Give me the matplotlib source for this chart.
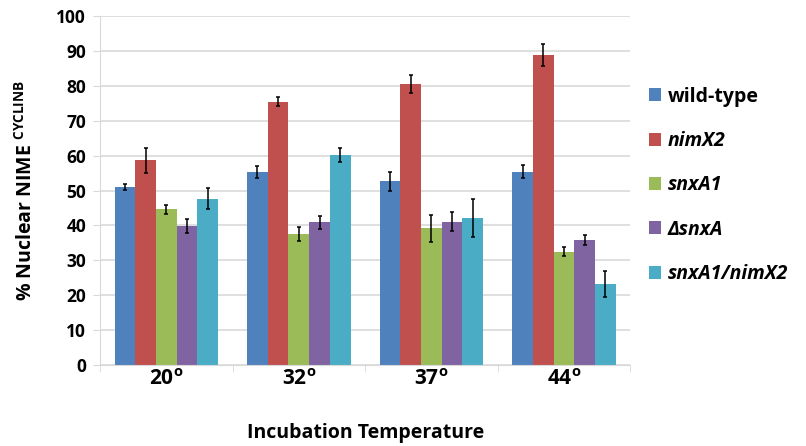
import matplotlib
matplotlib.use("Agg")
import matplotlib.pyplot as plt
import numpy as np

plt.rcParams['font.family'] = ['Open Sans', 'DejaVu Sans']
plt.rcParams['mathtext.fontset'] = 'custom'
plt.rcParams['mathtext.bf'] = 'Open Sans:bold'
plt.rcParams['mathtext.rm'] = 'Open Sans:bold'

categories = ["20", "32", "37", "44"]
series = ["wild-type", "nimX2", "snxA1", "ΔsnxA", "snxA1/nimX2"]
wild_type = [51.0, 55.2, 52.6, 55.4]
nimX2 = [58.7, 75.5, 80.5, 88.8]
snxA1 = [44.6, 37.5, 39.2, 32.5]
d_snxA = [39.8, 40.9, 41.1, 35.8]
snxA1_nimX2 = [47.6, 60.2, 42.1, 23.2]
wild_type_err = [0.9, 1.7, 2.6, 1.8]
nimX2_err = [3.6, 1.4, 2.7, 3.1]
snxA1_err = [1.2, 2.0, 3.9, 1.2]
d_snxA_err = [1.9, 1.8, 2.7, 1.4]
snxA1_nimX2_err = [3.0, 2.1, 5.4, 3.7]

values = [wild_type, nimX2, snxA1, d_snxA, snxA1_nimX2]
errors = [wild_type_err, nimX2_err, snxA1_err, d_snxA_err, snxA1_nimX2_err]
colors = ["#4F81BD", "#C0504D", "#9BBB59", "#8064A2", "#4BACC6"]

fig = plt.figure(figsize=(8.06, 4.46), dpi=100)
ax = fig.add_axes([0.124, 0.1816, 0.658, 0.7825])

x = np.arange(len(categories))
w = 0.156
for i, (vals, errs, c, name) in enumerate(zip(values, errors, colors, series)):
    pos = x + (i - 2) * w
    ax.bar(pos, vals, w, color=c, label=name, zorder=2)
    ax.errorbar(pos, vals, yerr=errs, fmt='none', ecolor='black', elinewidth=1.1,
                capsize=1.5, capthick=1.1, zorder=3)

ax.set_xlim(-0.5, 3.5)
ax.set_ylim(0, 100)
ax.set_yticks(np.arange(0, 101, 10))
ax.yaxis.grid(True, color="#D9D9D9", linewidth=1.2, zorder=0)
ax.set_axisbelow(True)
for s in ['top', 'right']:
    ax.spines[s].set_visible(False)
ax.spines['left'].set_color('#D9D9D9')
ax.spines['bottom'].set_color('#D9D9D9')
ax.tick_params(axis='y', length=5, color='#D9D9D9', labelsize=12.5, pad=5)
ax.set_yticklabels([str(v) for v in range(0, 101, 10)], fontweight='bold')

ax.set_xticks(x)
ax.set_xticklabels([c + r"$^{\mathbf{o}}$" for c in categories], fontweight='bold', fontsize=15)
ax.tick_params(axis='x', length=0, pad=3)
ax.set_xticks(np.arange(-0.5, 4.0, 1.0), minor=True)
ax.tick_params(axis='x', which='minor', length=5, color='#D9D9D9')

ax.set_ylabel(r"% Nuclear NIME $^{\mathbf{CYCLINB}}$", fontsize=14, fontweight='bold', labelpad=14)
fig.text(0.4535, 0.03, "Incubation Temperature", ha='center', va='center', fontsize=14, fontweight='bold')

leg = fig.legend(loc='upper left', bbox_to_anchor=(0.795, 0.823), frameon=False,
                 handlelength=0.65, handleheight=0.65, handletextpad=0.35,
                 labelspacing=1.25, borderaxespad=0, prop={'weight': 'bold', 'size': 14})
for t in leg.get_texts()[1:]:
    t.set_fontstyle('italic')

fig.savefig("out.png", dpi=100)
